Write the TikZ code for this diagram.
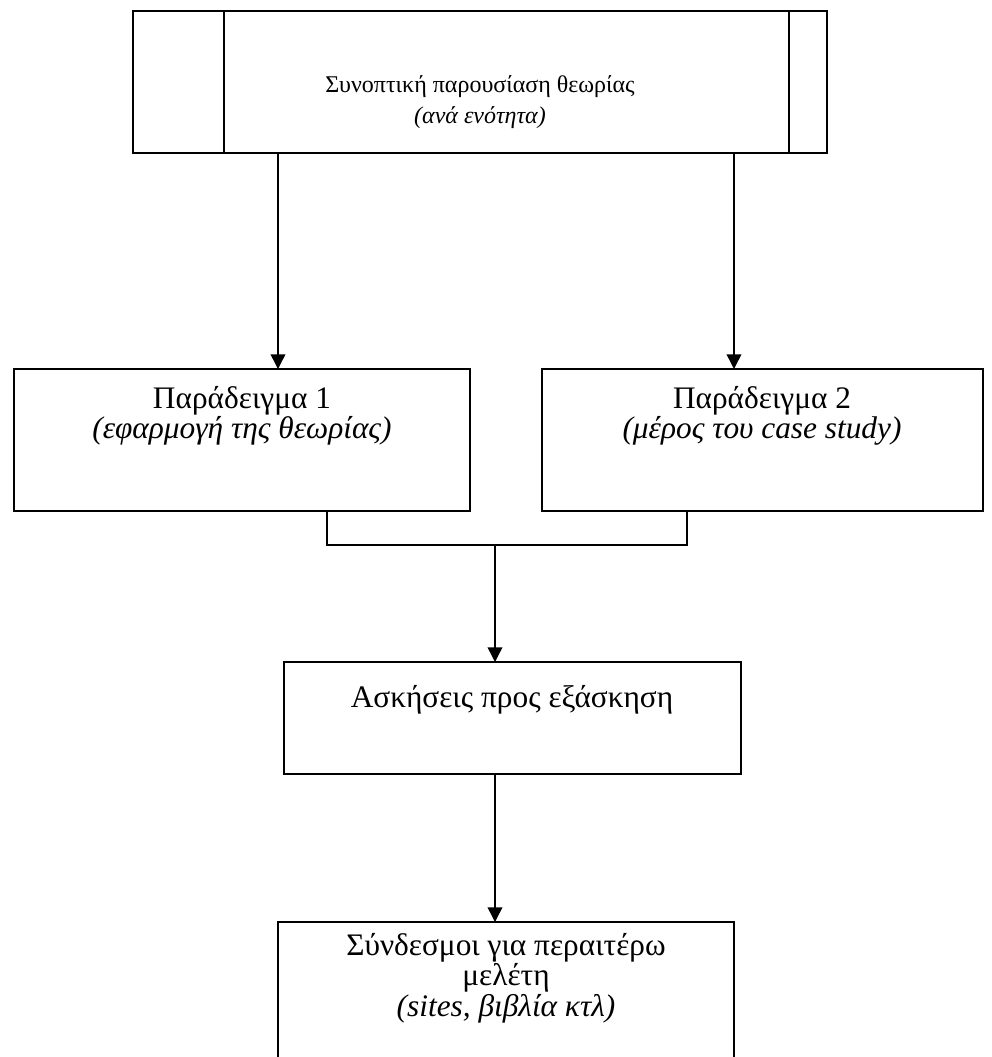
\documentclass[tikz,border=0pt]{standalone}
\usepackage{fontspec}
\setmainfont{Liberation Serif}
\usetikzlibrary{arrows.meta}
\begin{document}
\begin{tikzpicture}[x=0.75pt,y=-0.75pt,
  box/.style={draw=black,line width=1.1pt,fill=white,inner sep=0pt,outer sep=0pt,anchor=north west},
  % multi-line texts are placed by the baseline of their last line
  txt/.style={anchor=base,inner sep=0pt,align=center,font=\fontsize{23.5}{22.5}\selectfont},
  toptxt/.style={anchor=base,inner sep=0pt,align=center,font=\fontsize{18}{23}\selectfont},
  link/.style={line width=1.1pt},
  arr/.style={line width=1.1pt,-{Triangle[length=11pt,width=11pt]}}]
\clip (0,0) rectangle (992,1057);
\fill[white] (0,0) rectangle (992,1057);

% boxes
\node[box,minimum width=520.5pt,minimum height=106.5pt] (top) at (133,11) {};
\node[box,minimum width=342pt,minimum height=106.5pt] (ex1) at (14,369) {};
\node[box,minimum width=330.75pt,minimum height=106.5pt] (ex2) at (542,369) {};
\node[box,minimum width=342.75pt,minimum height=84pt] (prac) at (284,662) {};
\node[box,minimum width=342pt,minimum height=120pt] (links) at (278,922) {};

% side bars of the top box
\coordinate (sl) at (224,0);
\coordinate (sr) at (789,0);
\draw[link] (top.north -| sl) -- (top.south -| sl);
\draw[link] (top.north -| sr) -- (top.south -| sr);

% texts
\node[toptxt] (t1) at (480,123) {Συνοπτική παρουσίαση θεωρίας\\\itshape (ανά ενότητα)};
\node[txt] (e1) at (242,438) {Παράδειγμα 1\\\itshape (εφαρμογή της θεωρίας)};
\node[txt] (e2) at (762,438) {Παράδειγμα 2\\\itshape (μέρος του case study)};
\node[txt] (p1) at (512,707) {Ασκήσεις προς εξάσκηση};
\node[txt,font=\fontsize{23.5}{21.4}\selectfont] (l1) at (506,1016)
  {Σύνδεσμοι για περαιτέρω\\μελέτη\\\itshape (sites, βιβλία κτλ)};

% connectors
\coordinate (a1) at (278,0);
\coordinate (a2) at (734,0);
\coordinate (k1) at (327,0);
\coordinate (k2) at (687,0);
\coordinate (kb) at (0,545);
\coordinate (mid) at (495,0);
\draw[arr] (top.south -| a1) -- (ex1.north -| a1);
\draw[arr] (top.south -| a2) -- (ex2.north -| a2);
\draw[link] (ex1.south -| k1) -- (kb -| k1) -- (kb -| k2) -- (ex2.south -| k2);
\draw[arr] (kb -| mid) -- (prac.north -| mid);
\draw[arr] (prac.south -| mid) -- (links.north -| mid);
\end{tikzpicture}
\end{document}
